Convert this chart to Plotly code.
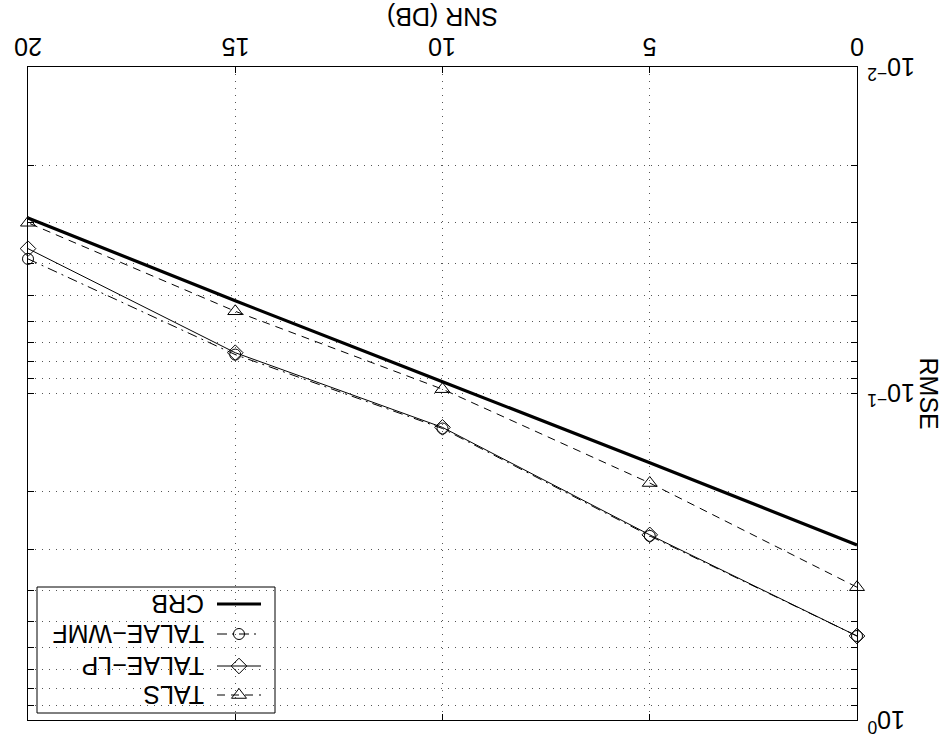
import math
import plotly.graph_objects as go

snr = [0, 5, 10, 15, 20]
crb = [0.291, 0.163, 0.092, 0.052, 0.029]
tals = [0.392, 0.188, 0.097, 0.056, 0.030]
talae_lp = [0.553, 0.271, 0.127, 0.075, 0.036]
talae_wmf = [0.553, 0.273, 0.128, 0.076, 0.0387]

x_ticks = [0, 5, 10, 15, 20]
x_ticklabels = ["0", "5", "10", "15", "20"]
y_grid = [m * 10 ** e for e in (-2, -1) for m in range(1, 10)] + [1]
y_major = [0.01, 0.1, 1]
y_majorlabels = ["10<sup>\u22122</sup>", "10<sup>\u22121</sup>", "10<sup>0</sup>"]

legend_names = ["CRB", "TALAE\u2212WMF", "TALAE\u2212LP", "TALS"]

FONT = "Liberation Sans, Arial, sans-serif"
FS = 25
fig = go.Figure()

series = [
    (crb, dict(color="black", width=3.2, dash="solid"), None),
    (talae_wmf, dict(color="black", width=1, dash="10px,5px,2px,5px"), "circle-open"),
    (talae_lp, dict(color="black", width=1, dash="solid"), "diamond-open"),
    (tals, dict(color="black", width=1, dash="8px,6px"), "triangle-up-open"),
]
sizes = {"circle-open": 11, "diamond-open": 12, "triangle-up-open": 13}
for vals, line, sym in series:
    fig.add_trace(go.Scatter(
        x=snr, y=vals, mode="lines" if sym is None else "lines+markers",
        line=line, cliponaxis=False,
        marker=dict(symbol=sym, size=sizes.get(sym, 0), color="black",
                    line=dict(color="black", width=1)) if sym else None,
        showlegend=False, hoverinfo="skip"))

# legend samples on an overlay pixel-like axis
rows_y = [604, 634, 666, 695]
for (vals, line, sym), ry, name in zip(series, rows_y, legend_names):
    fig.add_trace(go.Scatter(x=[217, 261], y=[ry, ry], mode="lines", line=line,
                             xaxis="x2", yaxis="y2", showlegend=False, hoverinfo="skip"))
    if sym:
        fig.add_trace(go.Scatter(x=[239], y=[ry], mode="markers",
                                 marker=dict(symbol=sym, size=sizes[sym], color="black",
                                             line=dict(color="black", width=1)),
                                 xaxis="x2", yaxis="y2", showlegend=False, hoverinfo="skip"))
    fig.add_annotation(x=206, y=ry, xref="x2", yref="y2", text=name, showarrow=False,
                       textangle=180, xanchor="right", yanchor="middle",
                       font=dict(family=FONT, size=FS, color="black"))

fig.add_shape(type="rect", x0=37, x1=275, y0=587, y1=713, xref="x2", yref="y2",
              line=dict(color="black", width=1), fillcolor="white", layer="below")

# tick labels as rotated annotations
for t, lab in zip(x_ticks, x_ticklabels):
    fig.add_annotation(x=t, y=1, xref="x", yref="paper", text=lab, showarrow=False,
                       textangle=180, xanchor="center", yanchor="middle", yshift=20,
                       font=dict(family=FONT, size=FS, color="black"))
for v, lab in zip(y_major, y_majorlabels):
    fig.add_annotation(x=1, y=math.log10(v), xref="paper", yref="y", text=lab, showarrow=False,
                       textangle=180, xanchor="left", yanchor="middle", xshift=8, yshift=-1,
                       font=dict(family=FONT, size=FS, color="black"))

fig.add_annotation(x=0.5, y=1, xref="paper", yref="paper", yshift=50, text="SNR (DB)",
                   showarrow=False, textangle=180, xanchor="center", yanchor="middle",
                   font=dict(family=FONT, size=FS, color="black"))
fig.add_annotation(x=1, y=0.5, xref="paper", yref="paper", xshift=72, text="RMSE",
                   showarrow=False, textangle=90, xanchor="center", yanchor="middle",
                   font=dict(family=FONT, size=FS, color="black"))

grid = dict(showgrid=True, gridcolor="#555555", gridwidth=1, griddash="1px,6px")
fig.update_layout(
    width=945, height=752,
    margin=dict(l=28, r=88, t=67, b=32),
    paper_bgcolor="white", plot_bgcolor="white",
    font=dict(family=FONT, size=FS, color="black"),
    xaxis=dict(range=[20, 0], side="top", tickvals=x_ticks, showticklabels=False,
               ticks="inside", ticklen=6, tickcolor="black",
               showline=True, linecolor="black", linewidth=1, mirror="ticks",
               zeroline=False, **grid),
    yaxis=dict(type="log", range=[0, -2], side="right", tickvals=y_grid, showticklabels=False,
               ticks="inside", ticklen=6, tickcolor="black",
               showline=True, linecolor="black", linewidth=1, mirror="ticks",
               zeroline=False, **grid),
    xaxis2=dict(range=[28, 857], overlaying="x", visible=False, showticklabels=False),
    yaxis2=dict(range=[720, 67], overlaying="y", visible=False, showticklabels=False),
)
fig.write_html("out.html")
